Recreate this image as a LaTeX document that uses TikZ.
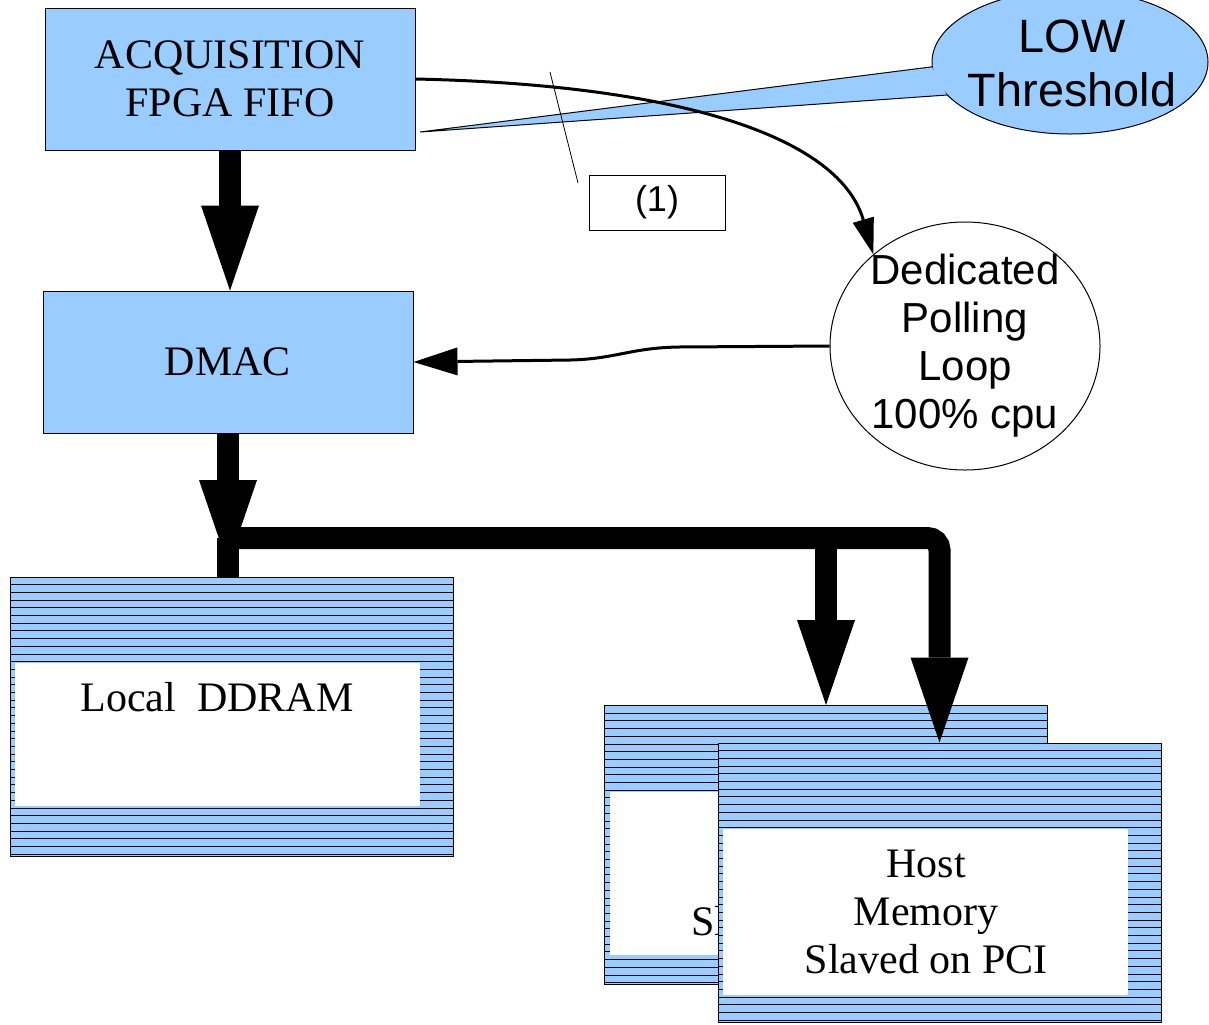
\documentclass[tikz,border=0pt]{standalone}
\usepackage{fontspec}
\setmainfont{Liberation Serif}
\newfontfamily\sansfont{Liberation Sans}
\usepackage{tikz}
\usetikzlibrary{arrows.meta,positioning,shapes.geometric}
\definecolor{boxblue}{HTML}{99CCFF}

\begin{document}
\begin{tikzpicture}[x=0.5pt,y=-0.5pt,
  blk/.style={draw, fill=boxblue, line width=0.5pt, inner sep=0pt, minimum width=185pt, minimum height=71pt, align=center, font=\fontsize{21}{24}\selectfont},
  mem/.style={draw, fill=boxblue, line width=0.5pt, inner sep=0pt, minimum width=221.5pt, minimum height=139.5pt,
    path picture={
      \foreach \k in {1,...,36}
        \draw[line width=0.5pt] ([yshift=-\k*3.85pt]path picture bounding box.north west)
          -- ([yshift=-\k*3.85pt]path picture bounding box.north east);
    }},
  win/.style={fill=white, inner sep=0pt, minimum width=202.5pt},
  txt/.style={inner sep=0pt, align=center, font=\fontsize{21}{24}\selectfont},
  bubble/.style={ellipse, draw, line width=0.5pt, inner sep=0pt},
  stxt/.style={inner sep=0pt, align=center, font=\sansfont\fontsize{21}{24}\selectfont},
  bus/.style={line width=11pt},
  fat/.style={bus, -{Triangle[length=42.5pt, width=29pt, line width=0pt]}},
  arr/.style={line width=1.5pt, -{Triangle[length=18pt, width=11pt, line width=0pt]}}
]
\useasboundingbox (0,0) rectangle (1209,1024);

% blocks
\node[blk] (acq) at (230,79) {ACQUISITION\\FPGA FIFO};
\node[blk] (dmac) at (228,362) {DMAC};

% memories
\node[mem] (ddram) at (231.5,716.5) {};
\node[win, minimum height=71.5pt] (ddramin) at (217.5,734.5) {};
\node[txt] (ddramtxt) at (217,697) {Local~~DDRAM};

\node[mem] (back) at (826,845) {};
\node[win, minimum height=81.5pt] (backin) at (812.5,873.5) {};
\node[txt] (backtxt) at (812.5,874) {Host\\Memory\\Slaved on PCI};

\node[mem] (host) at (939.5,882.5) {};
\node[win, minimum height=83pt] (hostin) at (925.5,912) {};
\node[txt] (hosttxt) at (926,912) {Host\\Memory\\Slaved on PCI};

% polling loop
\node[bubble, fill=white, minimum width=135pt, minimum height=124pt] (poll) at (965,346) {};
\node[stxt] (polltxt) at (poll.center) {Dedicated\\Polling\\Loop\\100\% cpu};

% callout
\node[bubble, fill=boxblue, minimum width=138pt, minimum height=72pt] (low) at (1070,62) {};
\coordinate (tail) at (420,132);
\fill[boxblue] (low.182) -- (tail) -- (low.195) -- cycle;
\draw[line width=0.5pt] (low.182) -- (tail) -- (low.195);
\node[stxt, font=\sansfont\fontsize{23.4}{27}\selectfont] (lowtxt) at (1072,63) {LOW\\Threshold};

% note
\node[draw, line width=0.5pt, minimum width=68pt, minimum height=27.5pt, inner sep=0pt, font=\sansfont\fontsize{18}{20}\selectfont] (one) at (657,202.5) {(1)};
\coordinate (leada) at (550,72);
\coordinate (leadb) at (578,183);
\draw[line width=0.4pt] (leadb) -- (leada);

% data path
\coordinate (hub) at (219,538);
\draw[fat] (acq.south) -- (acq.south |- dmac.north);
\draw[fat] (dmac.south) -- (dmac.south |- 0,565);
\draw[bus] (dmac.south |- hub) -- (dmac.south |- ddram.north);
\draw[fat, rounded corners=6pt] (hub) -- (host.north |- hub) -- (host.north);
\draw[fat] (back.north |- hub) -- (back.north);

% control
\draw[arr] (acq.east) .. controls (690,85) and (840,140) .. (poll.135);
\draw[line width=1.5pt, -{Triangle[length=22pt, width=14pt, line width=0pt]}]
  (poll.west) -- (678,347) .. controls (630,348) and (615,359) .. (570,360) -- (dmac.east);

\end{tikzpicture}
\end{document}
